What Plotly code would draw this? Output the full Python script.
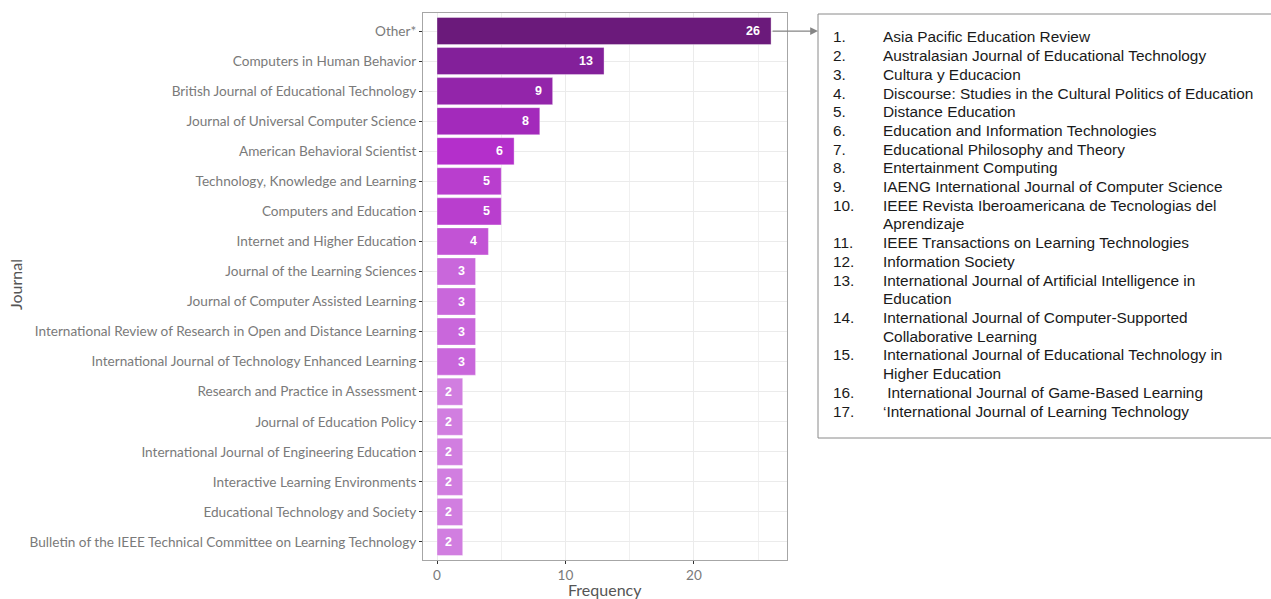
import plotly.graph_objects as go

journals = [
    "Other*",
    "Computers in Human Behavior",
    "British Journal of Educational Technology",
    "Journal of Universal Computer Science",
    "American Behavioral Scientist",
    "Technology, Knowledge and Learning",
    "Computers and Education",
    "Internet and Higher Education",
    "Journal of the Learning Sciences",
    "Journal of Computer Assisted Learning",
    "International Review of Research in Open and Distance Learning",
    "International Journal of Technology Enhanced Learning",
    "Research and Practice in Assessment",
    "Journal of Education Policy",
    "International Journal of Engineering Education",
    "Interactive Learning Environments",
    "Educational Technology and Society",
    "Bulletin of the IEEE Technical Committee on Learning Technology",
]
frequency = [26, 13, 9, 8, 6, 5, 5, 4, 3, 3, 3, 3, 2, 2, 2, 2, 2, 2]

value_colors = {
    26: "#6B1A7B", 13: "#83209A", 9: "#9325AA", 8: "#A32ABB",
    6: "#B42FCB", 5: "#B93ECE", 4: "#C253D5", 3: "#C967DB", 2: "#D17EE0",
}

other_numbers = ["1.", "2.", "3.", "4.", "5.", "6.", "7.", "8.", "9.", "10.", "",
                 "11.", "12.", "13.", "", "14.", "", "15.", "", "16.", "17."]
other_journals = [
    "Asia Pacific Education Review",
    "Australasian Journal of Educational Technology",
    "Cultura y Educacion",
    "Discourse: Studies in the Cultural Politics of Education",
    "Distance Education",
    "Education and Information Technologies",
    "Educational Philosophy and Theory",
    "Entertainment Computing",
    "IAENG International Journal of Computer Science",
    "IEEE Revista Iberoamericana de Tecnologias del",
    "Aprendizaje",
    "IEEE Transactions on Learning Technologies",
    "Information Society",
    "International Journal of Artificial Intelligence in",
    "Education",
    "International Journal of Computer-Supported",
    "Collaborative Learning",
    "International Journal of Educational Technology in",
    "Higher Education",
    "\u00a0International Journal of Game-Based Learning",
    "\u2018International Journal of Learning Technology",
]

W, H = 1271, 599
L, R, T, B = 423, 787, 13, 560
pw, ph = R - L, B - T

def px_x(p):
    return (p - L) / pw

def px_y(p):
    return (B - p) / ph

fig = go.Figure()
fig.add_trace(go.Bar(
    x=frequency, y=journals, orientation="h",
    marker=dict(color=[value_colors[v] for v in frequency],
                line=dict(color="rgba(255,255,255,0.35)", width=1)),
    width=0.9, showlegend=False, hoverinfo="x+y",
))

annotations = []
for j, v in zip(journals, frequency):
    annotations.append(dict(
        x=v, y=j, xref="x", yref="y", text=str(v), showarrow=False,
        xanchor="right", yanchor="middle", xshift=-9,
        font=dict(family="Liberation Sans, Arial", size=12.5, color="white", weight="bold"),
    ))

# arrow from "Other*" bar to the list box
box_x0 = px_x(818)
arrow_x = 29.65
annotations.append(dict(
    x=arrow_x, y=journals[0], xref="x", yref="y",
    ax=frequency[0], ay=0, axref="x", ayref="y",
    showarrow=True, arrowhead=2, arrowsize=1.3, arrowwidth=1.2,
    arrowcolor="#858585", standoff=0, startstandoff=0, text="",
))

line_top, pitch = 37, 18.7
list_font = dict(family="Liberation Sans, Arial", size=15.4, color="#1a1a1a")
for i, (n, t) in enumerate(zip(other_numbers, other_journals)):
    yy = px_y(line_top + i * pitch)
    if n:
        annotations.append(dict(
            x=px_x(831), y=yy, xref="paper", yref="paper", text=n, showarrow=False,
            xanchor="left", yanchor="middle", font=list_font,
        ))
    annotations.append(dict(
        x=px_x(881), y=yy, xref="paper", yref="paper", text=t, showarrow=False,
        xanchor="left", yanchor="middle", font=list_font,
    ))

annotations.append(dict(
    x=px_x(15), y=px_y(285), xref="paper", yref="paper", text="Journal",
    showarrow=False, textangle=-90, xanchor="center", yanchor="middle",
    font=dict(family="Lato", size=16, color="#555555"),
))
annotations.append(dict(
    x=0.5, y=px_y(589), xref="paper", yref="paper", text="Frequency",
    showarrow=False, xanchor="center", yanchor="middle",
    font=dict(family="Lato", size=16, color="#555555"),
))

shapes = [dict(
    type="rect", xref="paper", yref="paper",
    x0=box_x0, x1=px_x(1275), y0=px_y(438), y1=px_y(14),
    line=dict(color="#8a8a8a", width=1), fillcolor="rgba(0,0,0,0)", layer="above",
)]

fig.update_layout(
    width=W, height=H,
    margin=dict(l=L, r=W - R, t=T, b=H - B, pad=0),
    plot_bgcolor="white", paper_bgcolor="white",
    bargap=0.1,
    annotations=annotations, shapes=shapes,
    font=dict(family="Lato", color="#666666"),
)
tick_font = dict(family="Lato", size=13.6, color="#7a7a7a")
fig.update_xaxes(
    range=[-1.09, 27.24], tickvals=[0, 10, 20], ticks="outside", ticklen=3,
    tickcolor="#333333", tickfont=tick_font,
    showgrid=True, gridcolor="#ebebeb", gridwidth=1.1,
    minor=dict(tickvals=[5, 15, 25], showgrid=True, gridcolor="#f0f0f0", gridwidth=0.6, ticks=""),
    zeroline=False, showline=True, linecolor="#a6a6a6", linewidth=1, mirror=True,
)
fig.update_yaxes(
    categoryorder="array", categoryarray=journals, range=[len(journals) - 0.4, -0.6],
    ticks="outside", ticklen=3, tickcolor="#333333", tickfont=tick_font,
    showgrid=True, gridcolor="#ebebeb", gridwidth=1.1,
    zeroline=False, showline=True, linecolor="#a6a6a6", linewidth=1, mirror=True,
)

fig.write_html(
    "out.html",
    config={"displayModeBar": False},
    post_script="document.body.style.margin='0';document.body.style.overflow='hidden';",
)
